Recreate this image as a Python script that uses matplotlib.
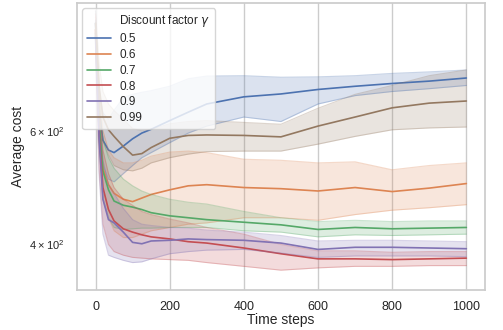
import numpy as np
import matplotlib
matplotlib.use("Agg")
import matplotlib.pyplot as plt
from matplotlib.lines import Line2D
import seaborn as sns

steps = [0, 10, 20, 35, 50, 75, 100, 125, 150, 200, 250, 300, 400, 500, 600, 700, 800, 900, 1000]

gammas = ["0.5", "0.6", "0.7", "0.8", "0.9", "0.99"]

mean_05 = [880, 640, 580, 560, 555, 568, 583, 595, 603, 622, 641, 660, 677, 684, 695, 703, 710, 716, 724]
low_05 = [840, 590, 530, 505, 500, 515, 530, 545, 555, 575, 595, 610, 630, 620, 660, 680, 690, 697, 705]
high_05 = [920, 690, 640, 625, 645, 675, 683, 688, 692, 703, 722, 729, 730, 726, 727, 730, 736, 740, 745]

mean_06 = [860, 640, 525, 495, 480, 470, 466, 472, 478, 486, 493, 495, 490, 488, 484, 490, 483, 489, 497]
low_06 = [820, 580, 470, 440, 420, 410, 410, 415, 420, 425, 430, 432, 440, 440, 436, 445, 452, 456, 461]
high_06 = [900, 700, 600, 560, 545, 535, 535, 540, 548, 556, 558, 555, 542, 540, 535, 537, 522, 530, 535]

mean_07 = [850, 620, 520, 486, 467, 460, 457, 453, 448, 443, 440, 437, 433, 429, 422, 425, 423, 424, 425]
low_07 = [810, 570, 470, 440, 425, 422, 423, 424, 424, 425, 425, 425, 420, 418, 411, 414, 413, 414, 415]
high_07 = [890, 680, 580, 545, 525, 505, 493, 484, 478, 470, 465, 462, 450, 440, 434, 436, 434, 435, 435]

mean_08 = [860, 590, 490, 453, 435, 423, 418, 414, 411, 408, 404, 402, 395, 387, 380, 380, 379, 380, 381]
low_08 = [800, 520, 430, 400, 390, 385, 382, 381, 380, 379, 378, 375, 370, 365, 368, 370, 370, 371, 371]
high_08 = [910, 670, 560, 515, 490, 470, 460, 450, 445, 438, 432, 425, 415, 400, 391, 391, 389, 390, 390]

mean_09 = [840, 580, 470, 437, 432, 418, 403, 401, 405, 406, 408, 407, 406, 402, 393, 396, 396, 395, 394]
low_09 = [790, 510, 415, 385, 382, 378, 375, 376, 380, 387, 390, 392, 393, 388, 382, 384, 384, 384, 383]
high_09 = [890, 650, 540, 495, 480, 455, 437, 430, 428, 425, 424, 421, 418, 413, 405, 406, 406, 405, 404]

mean_099 = [880, 700, 630, 602, 588, 567, 550, 553, 565, 584, 590, 591, 590, 587, 610, 630, 651, 662, 667]
low_099 = [840, 650, 580, 550, 530, 522, 520, 525, 535, 545, 552, 557, 558, 558, 572, 588, 602, 606, 608]
high_099 = [920, 760, 690, 660, 645, 625, 605, 600, 603, 615, 620, 622, 618, 614, 650, 683, 705, 730, 745]

means = [mean_05, mean_06, mean_07, mean_08, mean_09, mean_099]
lows = [low_05, low_06, low_07, low_08, low_09, low_099]
highs = [high_05, high_06, high_07, high_08, high_09, high_099]

sns.set_theme(style="whitegrid")
plt.rcParams['font.family'] = ['Liberation Sans', 'DejaVu Sans']
colors = sns.color_palette("deep", 6)

fig, ax = plt.subplots(figsize=(5.03, 3.30), dpi=100)
plt.subplots_adjust(left=0.153, right=0.964, top=0.991, bottom=0.121)

handles = []
for g, m, lo, hi, c in zip(gammas, means, lows, highs, colors):
    ax.fill_between(steps, lo, hi, color=c, alpha=0.2, lw=0)
    ax.plot(steps, lo, color=c, alpha=0.3, lw=0.8)
    ax.plot(steps, hi, color=c, alpha=0.3, lw=0.8)
    line, = ax.plot(steps, m, color=c, lw=1.2, label=g)
    handles.append(line)

ax.set_yscale('log')
ax.set_xlim(-50, 1050)
ax.set_ylim(340, 946)
ax.set_xticks([0, 200, 400, 600, 800, 1000])
ax.tick_params(axis='x', labelsize=9, pad=2)
ax.tick_params(axis='y', which='both', labelsize=8, pad=5)
ax.set_xlabel('Time steps', fontsize=10, labelpad=0)
ax.set_ylabel('Average cost', fontsize=10, labelpad=3)

# hue title shown as a first legend row without a handle, seaborn-style
title_handle = Line2D([], [], color='none')
ax.legend([title_handle] + handles, [r'Discount factor $\gamma$'] + gammas,
          loc='upper left', fontsize=8.5, borderaxespad=0.45, handlelength=2.0,
          handletextpad=0.75, labelspacing=0.33)

plt.savefig('out.png', dpi=100)
